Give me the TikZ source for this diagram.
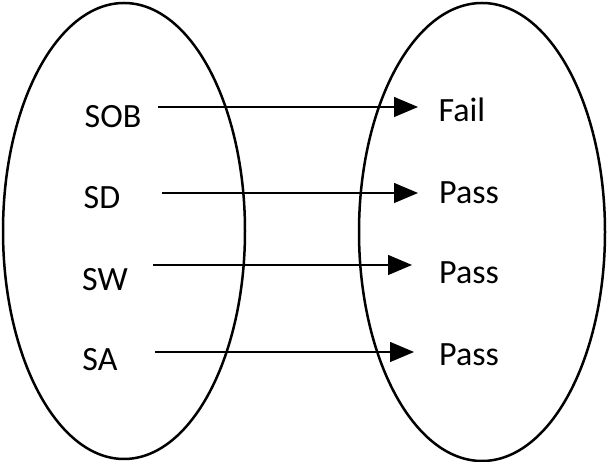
\documentclass[tikz,border=0pt]{standalone}
\usepackage{fontspec}
\setmainfont{Carlito}
\usetikzlibrary{arrows.meta}
\begin{document}
\begin{tikzpicture}[x=1pt,y=1pt,
  set/.style={draw,line width=2.5pt},
  lab/.style={font=\fontsize{34}{40}\selectfont,inner sep=0pt},
  map/.style={line width=1.3pt,-{Triangle[length=24pt,width=20pt]}}]
\useasboundingbox (0,0) rectangle (608,462);
\draw[set] (124,231) ellipse [x radius=121, y radius=228];
\draw[set] (482,230) ellipse [x radius=123, y radius=229];
\node[lab] (a1) at (113,345) {SOB};
\node[lab] (a2) at (102,264) {SD};
\node[lab] (a3) at (105,182) {SW};
\node[lab] (a4) at (100,102) {SA};
\node[lab] (b1) at (462,352) {Fail};
\node[lab] (b2) at (469,269) {Pass};
\node[lab] (b3) at (469,189) {Pass};
\node[lab] (b4) at (469,107) {Pass};
\coordinate (s1) at (158,355); \coordinate (t1) at (418,355);
\coordinate (s2) at (162,269); \coordinate (t2) at (418,269);
\coordinate (s3) at (153,197); \coordinate (t3) at (412,197);
\coordinate (s4) at (155,110); \coordinate (t4) at (414,110);
\draw[map] (s1) -- (t1);
\draw[map] (s2) -- (t2);
\draw[map] (s3) -- (t3);
\draw[map] (s4) -- (t4);
\end{tikzpicture}
\end{document}
